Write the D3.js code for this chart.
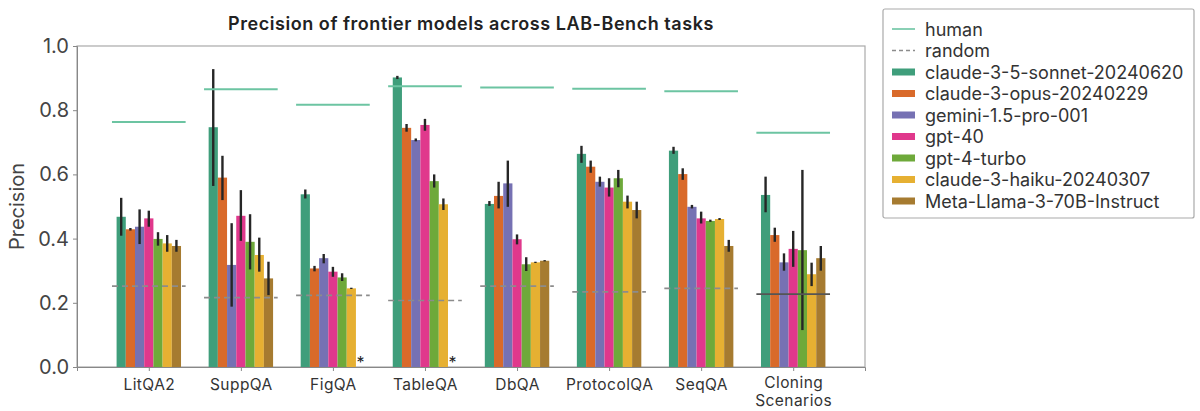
<!DOCTYPE html>
<html>
<head>
<meta charset="utf-8">
<script src="https://cdn.jsdelivr.net/npm/d3@7"></script>
<style>
  body { margin: 0; background: #fff; }
  svg text { font-family: Inter, "Noto Sans", sans-serif; }
</style>
</head>
<body>
<svg id="chart" width="1200" height="411"></svg>
<script>
const tasks = ["LitQA2", "SuppQA", "FigQA", "TableQA", "DbQA", "ProtocolQA", "SeqQA", "Cloning\nScenarios"];
const models = ["claude-3-5-sonnet-20240620", "claude-3-opus-20240229", "gemini-1.5-pro-001",
  "gpt-40", "gpt-4-turbo", "claude-3-haiku-20240307", "Meta-Llama-3-70B-Instruct"];
const colors = ["#3f9e7b", "#d96a2a", "#7671b3", "#e0388c", "#6ea93a", "#e6b032", "#a67b30"];

const human = [0.763, 0.865, 0.817, 0.875, 0.871, 0.867, 0.859, 0.730];
const random = [0.252, 0.216, 0.223, 0.207, 0.252, 0.234, 0.245, 0.227];

// one row per model, one column per task (null = not evaluated)
const precision = [
  [0.468, 0.747, 0.538, 0.902, 0.508, 0.664, 0.674, 0.536],
  [0.429, 0.590, 0.307, 0.745, 0.533, 0.624, 0.601, 0.411],
  [0.437, 0.318, 0.339, 0.707, 0.572, 0.577, 0.499, 0.326],
  [0.463, 0.471, 0.297, 0.754, 0.398, 0.559, 0.463, 0.368],
  [0.399, 0.390, 0.279, 0.579, 0.320, 0.588, 0.455, 0.364],
  [0.385, 0.349, 0.245, 0.507, 0.326, 0.515, 0.461, 0.289],
  [0.377, 0.276, null, null, 0.331, 0.489, 0.377, 0.339]
];
const ciLow = [
  [0.409, 0.564, 0.525, 0.897, 0.502, 0.636, 0.664, 0.482],
  [0.425, 0.520, 0.298, 0.733, 0.494, 0.605, 0.583, 0.390],
  [0.383, 0.188, 0.323, 0.703, 0.499, 0.562, 0.494, 0.300],
  [0.437, 0.393, 0.281, 0.736, 0.382, 0.531, 0.447, 0.312],
  [0.378, 0.304, 0.268, 0.559, 0.299, 0.560, 0.452, 0.115],
  [0.359, 0.297, 0.243, 0.489, 0.324, 0.494, 0.458, 0.252],
  [0.359, 0.224, null, null, 0.329, 0.463, 0.359, 0.300]
];
const ciHigh = [
  [0.527, 0.928, 0.553, 0.907, 0.517, 0.689, 0.686, 0.593],
  [0.433, 0.658, 0.315, 0.757, 0.577, 0.643, 0.619, 0.434],
  [0.491, 0.448, 0.352, 0.712, 0.643, 0.593, 0.505, 0.354],
  [0.487, 0.551, 0.312, 0.773, 0.413, 0.588, 0.484, 0.424],
  [0.420, 0.476, 0.292, 0.600, 0.342, 0.614, 0.459, 0.614],
  [0.411, 0.403, 0.247, 0.525, 0.328, 0.534, 0.464, 0.325],
  [0.396, 0.328, null, null, 0.333, 0.515, 0.396, 0.377]
];
const yTicks = [0, 0.2, 0.4, 0.6, 0.8, 1.0];

const margin = { top: 46, right: 335, bottom: 44, left: 77 };
const width = 1200 - margin.left - margin.right;
const height = 411 - margin.top - margin.bottom;

const svg = d3.select("#chart")
  .append("g")
  .attr("transform", `translate(${margin.left}, ${margin.top})`);

const x = d3.scaleLinear().domain([-0.78, tasks.length - 1 + 0.78]).range([0, width]);
const y = d3.scaleLinear().domain([0, 1]).range([height, 0]);

const groupWidth = 0.7;
const barW = groupWidth / models.length;
const barX = (ti, mi) => ti - groupWidth / 2 + mi * barW;

// frame
svg.append("rect")
  .attr("width", width).attr("height", height)
  .attr("fill", "none").attr("stroke", "#aaa").attr("stroke-width", 1.2);

// bars
models.forEach((m, mi) => {
  svg.append("g").selectAll("rect")
    .data(tasks.map((t, ti) => ({ ti, v: precision[mi][ti] })).filter(d => d.v !== null))
    .enter().append("rect")
    .attr("x", d => x(barX(d.ti, mi)))
    .attr("width", x(barW) - x(0))
    .attr("y", d => y(d.v))
    .attr("height", d => y(0) - y(d.v))
    .attr("fill", colors[mi]);
});

// error bars
models.forEach((m, mi) => {
  svg.append("g").selectAll("line")
    .data(tasks.map((t, ti) => ({ ti, lo: ciLow[mi][ti], hi: ciHigh[mi][ti] })).filter(d => d.lo !== null))
    .enter().append("line")
    .attr("x1", d => x(barX(d.ti, mi) + barW / 2))
    .attr("x2", d => x(barX(d.ti, mi) + barW / 2))
    .attr("y1", d => y(d.lo))
    .attr("y2", d => y(d.hi))
    .attr("stroke", "#262626")
    .attr("stroke-width", 2.4);
});

// missing-bar markers
models.forEach((m, mi) => {
  tasks.forEach((t, ti) => {
    if (precision[mi][ti] === null) {
      svg.append("text")
        .attr("x", x(barX(ti, mi) + barW / 2))
        .attr("y", y(0) + 1)
        .attr("text-anchor", "middle")
        .attr("font-size", 16)
        .attr("fill", "#222")
        .text("*");
    }
  });
});

// human and random reference lines
svg.append("g").selectAll("line")
  .data(human).enter().append("line")
  .attr("x1", (d, i) => x(i - 0.4)).attr("x2", (d, i) => x(i + 0.4))
  .attr("y1", d => y(d)).attr("y2", d => y(d))
  .attr("stroke", "#6cc4a2").attr("stroke-width", 2);

svg.append("g").selectAll("line")
  .data(random).enter().append("line")
  .attr("x1", (d, i) => x(i - 0.4)).attr("x2", (d, i) => x(i + 0.4))
  .attr("y1", d => y(d)).attr("y2", d => y(d))
  .attr("stroke", (d, i) => i === tasks.length - 1 ? "#555" : "#8c8c8c")
  .attr("stroke-width", 1.6)
  .attr("stroke-dasharray", (d, i) => i === tasks.length - 1 ? null : "6,4");

// axes
const xAxis = d3.axisBottom(x).tickValues(d3.range(tasks.length)).tickSize(4).tickFormat("");
const gx = svg.append("g").attr("transform", `translate(0, ${height})`).call(xAxis);
gx.select(".domain").attr("stroke", "#888");
gx.selectAll(".tick line").attr("stroke", "#888");
gx.selectAll(".tick").each(function (d) {
  const lines = tasks[d].split("\n");
  lines.forEach((s, k) => d3.select(this).append("text")
    .attr("fill", "#333").attr("font-size", 15.5).attr("letter-spacing", 0.45)
    .attr("text-anchor", "middle")
    .attr("y", (lines.length > 1 ? 21 : 22.5) + k * 18)
    .text(s));
});

const yAxis = d3.axisLeft(y).tickValues(yTicks).tickSize(4).tickFormat(d3.format(".1f"));
const gy = svg.append("g").call(yAxis);
gy.select(".domain").attr("stroke", "#888");
gy.selectAll(".tick line").attr("stroke", "#888");
gy.selectAll(".tick text").attr("font-size", 20).attr("fill", "#444").attr("dx", "-1");

svg.append("text")
  .attr("transform", `translate(${-53}, ${height / 2}) rotate(-90)`)
  .attr("text-anchor", "middle")
  .attr("font-size", 20).attr("fill", "#444")
  .text("Precision");

svg.append("text")
  .attr("x", width / 2).attr("y", -16)
  .attr("text-anchor", "middle")
  .attr("font-size", 18).attr("font-weight", 600).attr("letter-spacing", 0.55).attr("fill", "#222")
  .text("Precision of frontier models across LAB-Bench tasks");

// legend
const legend = d3.select("#chart").append("g").attr("transform", "translate(883, 9)");
legend.append("rect")
  .attr("width", 311).attr("height", 209).attr("rx", 2)
  .attr("fill", "#fff").attr("stroke", "#aaa").attr("stroke-width", 1.2);

const items = [
  { label: "human", type: "human" },
  { label: "random", type: "random" },
  ...models.map((m, i) => ({ label: m, type: "bar", color: colors[i] }))
];
const li = legend.selectAll(".item").data(items).enter().append("g")
  .attr("transform", (d, i) => `translate(9, ${20 + i * 21.5})`);
li.each(function (d) {
  const g = d3.select(this);
  if (d.type === "bar") {
    g.append("rect").attr("x", 0).attr("y", -3.5).attr("width", 23).attr("height", 7).attr("fill", d.color);
  } else {
    g.append("line").attr("x1", 0).attr("x2", 23).attr("y1", 0).attr("y2", 0)
      .attr("stroke", d.type === "human" ? "#6cc4a2" : "#8c8c8c")
      .attr("stroke-width", 1.6)
      .attr("stroke-dasharray", d.type === "random" ? "4,3" : null);
  }
  g.append("text").attr("x", 33).attr("y", 6.5)
    .attr("font-size", 18).attr("fill", "#333").text(d.label);
});
</script>
</body>
</html>
